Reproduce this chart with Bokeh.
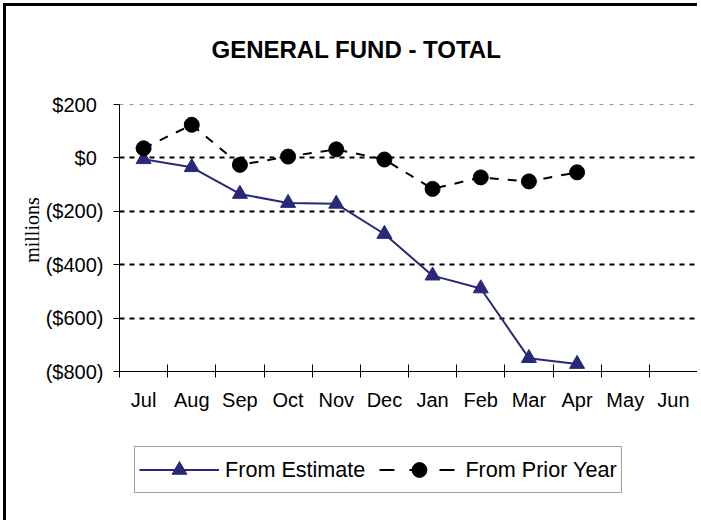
from bokeh.plotting import figure
from bokeh.layouts import column
from bokeh.models import (Range1d, FixedTicker, Grid, Legend, LegendItem,
                          ColumnDataSource)
from bokeh.embed import file_html
from bokeh.resources import INLINE

# ---- data ----
months = ["Jul", "Aug", "Sep", "Oct", "Nov", "Dec", "Jan", "Feb", "Mar", "Apr", "May", "Jun"]
from_estimate = [-5, -35, -135, -169, -172, -285, -441, -489, -750, -772]
from_prior_year = [36, 124, -26, 5, 32, -6, -116, -73, -88, -54]
y_ticks = [-800, -600, -400, -200, 0, 200]
y_tick_labels = ["($800)", "($600)", "($400)", "($200)", "$0\u2004", "$200\u2004"]
series_names = ["From Estimate", "From Prior Year"]

NAVY = "#29297a"
FONT = "Liberation Sans"

est_x = [i + 0.5 for i in range(len(from_estimate))]
pri_x = [i + 0.5 for i in range(len(from_prior_year))]
src_est = ColumnDataSource(dict(x=est_x, y=from_estimate))
src_pri = ColumnDataSource(dict(x=pri_x, y=from_prior_year))

# the frame reaches a little above $200 to leave room for the title; the
# y axis itself is bounded to the -800..200 span
p = figure(width=691, height=418, output_backend="svg", toolbar_location=None,
           x_range=Range1d(0, len(months)), y_range=Range1d(-800, 260),
           min_border_left=113, min_border_right=0, min_border_top=82,
           min_border_bottom=53)
p.outline_line_color = None
p.background_fill_color = "white"
p.border_fill_color = "white"

# title
p.title.text = "GENERAL FUND - TOTAL"
p.title.text_font = FONT
p.title.text_font_size = "24px"
p.title.text_font_style = "bold"
p.title.text_color = "black"
p.title.align = "left"
p.title.offset = 92
p.title.standoff = 52

# x axis
xa = p.xaxis[0]
xa.ticker = FixedTicker(ticks=[i + 0.5 for i in range(len(months))],
                        minor_ticks=list(range(len(months) + 1)))
xa.major_label_overrides = {i + 0.5: m for i, m in enumerate(months)}
xa.major_tick_in = 0
xa.major_tick_out = 0
xa.minor_tick_in = 7
xa.minor_tick_out = 6
xa.minor_tick_line_color = "black"
xa.axis_line_color = "black"
xa.major_label_text_font = FONT
xa.major_label_text_font_size = "20px"
xa.major_label_text_color = "black"
xa.major_label_standoff = 11

# y axis
ya = p.yaxis[0]
ya.bounds = (y_ticks[0], y_ticks[-1])
ya.ticker = FixedTicker(ticks=y_ticks)
ya.major_label_overrides = dict(zip(y_ticks, y_tick_labels))
ya.major_tick_in = 0
ya.major_tick_out = 6
ya.minor_tick_line_color = None
ya.axis_line_color = "black"
ya.major_label_text_font = FONT
ya.major_label_text_font_size = "20px"
ya.major_label_text_color = "black"
ya.major_label_standoff = 10
ya.axis_label = "millions"
ya.axis_label_text_font = "Liberation Serif"
ya.axis_label_text_font_size = "20px"
ya.axis_label_text_font_style = "normal"
ya.axis_label_text_color = "black"
ya.axis_label_standoff = 0

# grids
p.xgrid.visible = False
p.ygrid.ticker = FixedTicker(ticks=[-600, -400, -200, 0])
p.ygrid.grid_line_color = "black"
p.ygrid.grid_line_width = 2
p.ygrid.grid_line_dash = "5 5"
top_grid = Grid(dimension=1, ticker=FixedTicker(ticks=[200]),
                grid_line_color="#999999", grid_line_width=1, grid_line_dash="4 6")
p.add_layout(top_grid)

# series
p.line("x", "y", source=src_est, line_color=NAVY, line_width=2)
p.scatter("x", "y", source=src_est, marker="triangle", size=15,
          fill_color=NAVY, line_color=NAVY)
p.line("x", "y", source=src_pri, line_color="black", line_width=2,
       line_dash="9 9")
p.scatter("x", "y", source=src_pri, marker="circle", size=15,
          fill_color="black", line_color="black")

# ---- legend strip (separate figure below the chart; its ranges keep the
# series out of view so only the legend shows) ----
lf = figure(width=691, height=96, output_backend="svg", toolbar_location=None,
            x_range=Range1d(1000, 2000), y_range=Range1d(1000, 2000),
            x_axis_type=None, y_axis_type=None,
            min_border_left=0, min_border_right=0, min_border_top=0,
            min_border_bottom=0)
lf.outline_line_color = None
lf.xgrid.visible = False
lf.ygrid.visible = False
ll1 = lf.line("x", "y", source=src_est, line_color=NAVY, line_width=2)
ls1 = lf.scatter("x", "y", source=src_est, marker="triangle", size=15,
                 fill_color=NAVY, line_color=NAVY)
ll2 = lf.line("x", "y", source=src_pri, line_color="black", line_width=2,
              line_dash="15 15")
ls2 = lf.scatter("x", "y", source=src_pri, marker="circle", size=15,
                 fill_color="black", line_color="black")

legend = Legend(items=[LegendItem(label=series_names[0], renderers=[ll1, ls1]),
                       LegendItem(label=series_names[1], renderers=[ll2, ls2])],
                orientation="horizontal", location=(15, 27),
                glyph_width=80, glyph_height=37, label_standoff=6, spacing=14,
                padding=4, margin=0,
                label_text_font=FONT, label_text_font_size="21.6px",
                label_text_color="black",
                border_line_color="#444444", border_line_width=1,
                background_fill_alpha=1)
lf.add_layout(legend)

layout = column(p, lf, spacing=0)
layout.styles = {"margin-left": "3px", "margin-top": "3px",
                 "border-left": "3px solid black", "border-top": "3px solid black",
                 "overflow": "hidden"}

open("out.html", "w").write(file_html(layout, INLINE))
